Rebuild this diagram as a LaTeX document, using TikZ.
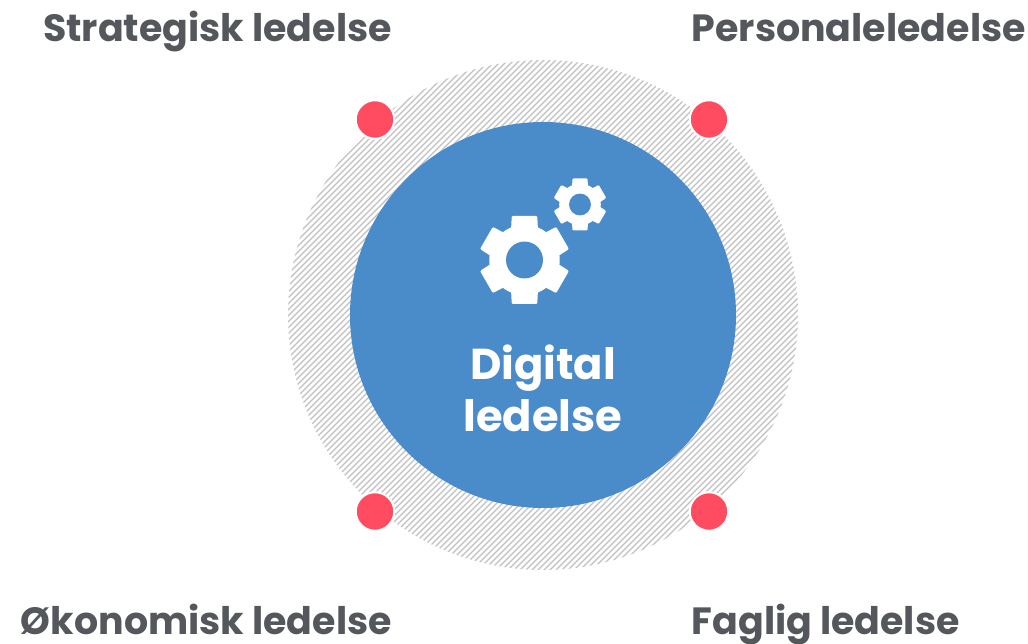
\documentclass[tikz,border=0pt]{standalone}
\usepackage{xcolor}
\usepackage{fontspec}
\setmainfont{Poppins}
\definecolor{labelgrey}{HTML}{54575B}
\definecolor{hubblue}{HTML}{4A8BCA}
\definecolor{dotred}{HTML}{FF4C60}
\definecolor{hatchgrey}{HTML}{C0C0C0}
\tikzset{
  area/.style={font=\fontsize{10.8pt}{13pt}\selectfont\bfseries,text=labelgrey,inner sep=0pt},
  hubtext/.style={font=\fontsize{12.3pt}{15pt}\selectfont\bfseries,text=white,inner sep=0pt},
  reddot/.style={circle,fill=dotred,draw=white,line width=0.2mm,minimum size=0.385cm,inner sep=0pt},
  gear/.pic={
    \fill[white] (0,0) circle (0.8);
    \foreach \a in {0,60,...,300}
      \fill[white,rounded corners=0.3pt,rotate=\a] (-0.31,0.6)--(-0.29,1)--(0.29,1)--(0.31,0.6)--cycle;
    \fill[hubblue] (0,0) circle (0.42);
  }
}
\begin{document}
\begin{tikzpicture}
\useasboundingbox (0,0) rectangle (10.28,6.44);
\begin{scope}
\clip (5.43,3.29) circle (2.55);
\foreach \i in {-4,-3.94,...,10}
  \draw[hatchgrey,line width=0.12mm] (\i,0)--(\i+6.44,6.44);
\end{scope}
\node (hub) at (5.43,3.29) [circle,fill=hubblue,minimum size=3.86cm,inner sep=0pt] {};
\pic at (5.245,3.84) [scale=0.44] {gear};
\pic at (5.80,4.395) [scale=0.26] {gear};
\node (digital) at (5.43,2.64) [hubtext,anchor=base] {Digital};
\node (ledelse) at (5.43,2.12) [hubtext,anchor=base] {ledelse};
\node (dotnw) at (3.75,5.245) [reddot] {};
\node (dotne) at (7.09,5.245) [reddot] {};
\node (dotsw) at (3.75,1.325) [reddot] {};
\node (dotse) at (7.09,1.325) [reddot] {};
\node (strategisk) at (3.925,6.02) [area,anchor=base east] {Strategisk ledelse};
\node (personale) at (6.91,6.02) [area,anchor=base west] {Personaleledelse};
\node (okonomisk) at (3.925,0.09) [area,anchor=base east] {Økonomisk ledelse};
\node (faglig) at (6.91,0.09) [area,anchor=base west] {Faglig ledelse};
\end{tikzpicture}
\end{document}
